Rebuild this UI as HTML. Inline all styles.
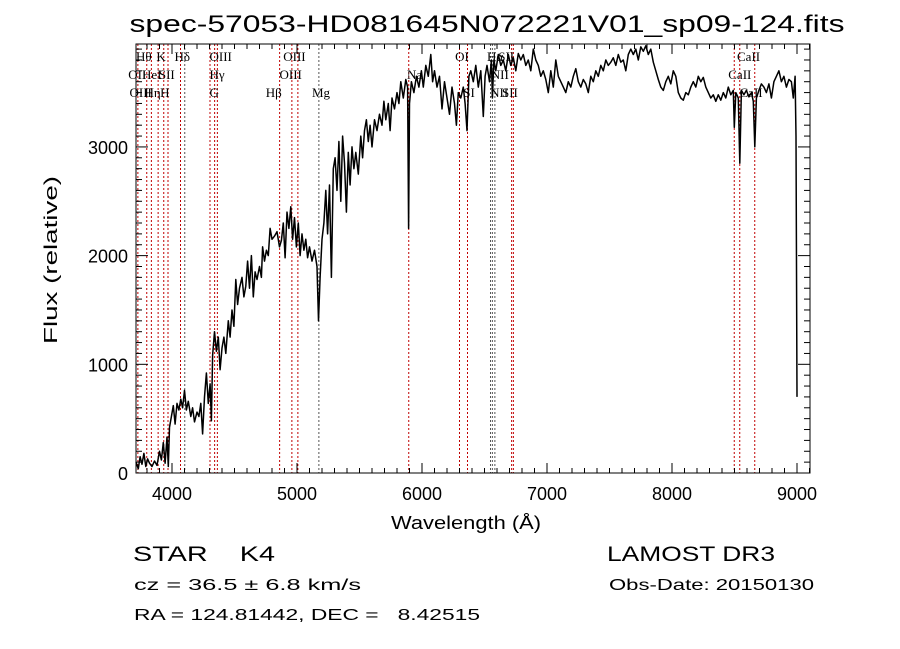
<!DOCTYPE html>
<html><head><meta charset="utf-8"><style>
body{margin:0;background:#fff;}
svg{display:block;}
text{fill:#000;white-space:pre;}
.lab{font-family:"Liberation Serif",serif;font-size:13px;}
.ax{font-family:"Liberation Sans",sans-serif;font-size:18px;}
</style></head><body>
<svg id="chart" width="900" height="649" viewBox="0 0 900 649" xmlns="http://www.w3.org/2000/svg">
<rect width="900" height="649" fill="#fff"/>
<text x="487" y="32" text-anchor="middle" font-family="Liberation Sans, sans-serif" font-size="24" textLength="715" lengthAdjust="spacingAndGlyphs">spec-57053-HD081645N072221V01_sp09-124.fits</text>
<g id="lines"></g>
<g id="labels"></g>
<path id="spec" fill="none" stroke="#000" stroke-width="1.5" stroke-linejoin="round"/>
<rect x="136" y="44" width="674" height="429" fill="none" stroke="#000" stroke-width="1"/>
<g id="ticks" stroke="#000" stroke-width="1"></g>
<g id="ticklabels"></g>
<text x="466" y="529" text-anchor="middle" class="ax" textLength="150" lengthAdjust="spacingAndGlyphs">Wavelength (Å)</text>
<text transform="translate(57,260) rotate(-90)" text-anchor="middle" class="ax" textLength="168" lengthAdjust="spacingAndGlyphs">Flux (relative)</text>
<text x="133" y="561" font-family="Liberation Sans, sans-serif" font-size="21" textLength="142" lengthAdjust="spacingAndGlyphs">STAR    K4</text>
<text x="134" y="590" font-family="Liberation Sans, sans-serif" font-size="16" textLength="227" lengthAdjust="spacingAndGlyphs">cz = 36.5 ± 6.8 km/s</text>
<text x="134" y="620" font-family="Liberation Sans, sans-serif" font-size="16" textLength="346" lengthAdjust="spacingAndGlyphs">RA = 124.81442, DEC =   8.42515</text>
<text x="607" y="561" font-family="Liberation Sans, sans-serif" font-size="21" textLength="168" lengthAdjust="spacingAndGlyphs">LAMOST DR3</text>
<text x="609" y="590" font-family="Liberation Sans, sans-serif" font-size="16" textLength="205" lengthAdjust="spacingAndGlyphs">Obs-Date: 20150130</text>
</svg>
<script>
const wavelengths=[3712,3730,3745,3760,3775,3790,3805,3820,3840,3860,3880,3900,3915,3930,3945,3960,3970,3980,3995,4010,4025,4040,4055,4070,4085,4100,4115,4130,4150,4165,4180,4200,4215,4230,4245,4260,4275,4290,4305,4315,4325,4340,4355,4370,4385,4400,4415,4430,4450,4465,4480,4495,4510,4525,4540,4560,4575,4590,4605,4620,4635,4650,4665,4680,4700,4715,4725,4740,4755,4770,4785,4800,4820,4840,4860,4875,4890,4905,4920,4935,4950,4965,4980,4995,5010,5025,5040,5055,5070,5085,5100,5120,5140,5160,5172,5185,5200,5215,5230,5245,5260,5275,5290,5305,5320,5335,5350,5365,5380,5395,5410,5425,5440,5455,5470,5490,5510,5525,5540,5555,5570,5585,5600,5620,5640,5660,5680,5695,5710,5730,5745,5760,5780,5800,5815,5830,5850,5870,5885,5893,5900,5915,5935,5955,5975,5995,6010,6030,6050,6070,6085,6100,6120,6140,6160,6180,6200,6220,6240,6260,6275,6290,6310,6330,6345,6360,6375,6390,6410,6430,6450,6470,6490,6505,6520,6540,6555,6563,6575,6590,6610,6630,6650,6670,6690,6710,6730,6750,6770,6790,6810,6830,6850,6870,6890,6910,6930,6950,6970,6990,7010,7030,7050,7070,7090,7110,7130,7150,7170,7190,7210,7230,7250,7270,7290,7310,7330,7350,7370,7390,7410,7430,7450,7470,7490,7510,7530,7550,7570,7590,7610,7630,7650,7670,7690,7710,7730,7750,7770,7790,7810,7830,7850,7870,7890,7910,7930,7950,7970,7990,8010,8030,8050,8070,8090,8110,8130,8150,8170,8190,8210,8230,8250,8270,8290,8310,8330,8350,8370,8390,8410,8430,8450,8470,8490,8498,8510,8530,8542,8555,8575,8595,8615,8635,8650,8662,8675,8695,8715,8735,8755,8775,8795,8815,8835,8855,8875,8895,8915,8935,8955,8970,8985,8992,9000];
const fluxes=[100,40,150,80,180,60,130,90,60,110,70,200,120,280,90,330,60,420,520,620,450,640,580,680,600,760,580,660,520,600,470,560,520,640,360,700,920,640,820,480,1080,1300,1120,1250,950,1150,1250,1100,1400,1250,1500,1350,1780,1550,1700,1800,1620,1720,1950,1700,2000,1620,1850,1780,1900,1800,2080,1950,2050,2000,2250,2150,2180,2220,2080,2140,2300,1980,2400,2250,2450,2150,2350,2080,2300,2000,2200,2050,2150,1980,2080,1950,2050,1900,1400,1800,2150,2300,2600,2200,2650,1800,2800,2900,2600,3050,2500,3100,2850,2400,2950,2650,3000,2800,2950,2750,3100,2900,3150,3250,3050,3200,3000,3250,3150,3300,3200,3420,3250,3400,3150,3450,3350,3500,3400,3600,3450,3620,3550,2250,3400,3600,3500,3650,3550,3700,3550,3750,3650,3850,3600,3700,3550,3650,3350,3600,3450,3300,3550,3400,3200,3500,3450,3550,3400,3150,3650,3700,3600,3750,3550,3700,3280,3650,3750,3600,3800,3450,3800,3700,3850,3750,3800,3700,3850,3750,3820,3700,3860,3800,3850,3750,3800,3700,3900,3800,3750,3650,3700,3620,3500,3700,3550,3800,3650,3600,3550,3500,3600,3550,3650,3720,3600,3550,3620,3580,3500,3650,3600,3700,3650,3750,3700,3800,3750,3780,3820,3750,3850,3780,3800,3700,3850,3900,3850,3900,3800,3920,3880,3930,3850,3900,3780,3700,3620,3550,3520,3600,3650,3580,3700,3650,3500,3450,3430,3500,3480,3550,3600,3550,3650,3600,3640,3550,3500,3450,3480,3420,3480,3430,3500,3450,3550,3480,3520,3180,3500,3450,2850,3520,3480,3520,3460,3500,3420,3000,3450,3520,3580,3550,3500,3580,3450,3600,3650,3700,3600,3650,3550,3620,3600,3450,3650,3100,700];
const lineWaves=[3727,3798,3835,3889,3934,3968,4068,4102,4304,4341,4363,4861,4959,5007,5175,5894,6300,6364,6548,6563,6583,6717,6731,8498,8542,8662];
const lineRed=[1,1,1,1,1,1,1,0,1,1,1,1,1,1,0,1,1,1,0,0,0,1,1,1,1,1];
const labelTexts=["Hθ","K","Hδ","OIII","OIII","OI","Hα","SII","CaII","OII","HeI","SII","Hγ","OIII","Na","NII","CaII","OIII","Hη","H","G","Hβ","Mg","SI","NII","SII","CaII"];
const labelWaves=[3712,3875,4020,4300,4890,6265,6520,6610,8520,3650,3760,3895,4300,4860,5880,6550,8450,3660,3780,3905,4300,4750,5120,6330,6545,6640,8540];
const labelRows=[0,0,0,0,0,0,0,0,0,1,1,1,1,1,1,1,1,2,2,2,2,2,2,2,2,2,2];
const xTicks=[4000,5000,6000,7000,8000,9000];
const yTicks=[0,1000,2000,3000];
const X0=136,X1=810,Y0=473,Y1=44,WMIN=3712,WMAX=9104,FMIN=0,FMAX=3947;
const xs=w=>X0+(w-WMIN)/(WMAX-WMIN)*(X1-X0);
const ys=f=>Y0-(f-FMIN)/(FMAX-FMIN)*(Y0-Y1);
const NS="http://www.w3.org/2000/svg";
function mk(tag,attrs,parent){const e=document.createElementNS(NS,tag);for(const k in attrs)e.setAttribute(k,attrs[k]);parent.appendChild(e);return e;}
let d="";wavelengths.forEach((w,i)=>{d+=(i?"L":"M")+xs(w).toFixed(1)+","+ys(fluxes[i]).toFixed(1);});
document.getElementById('spec').setAttribute('d',d);
const lg=document.getElementById('lines');
lineWaves.forEach((w,i)=>{const x=xs(w);const l=mk('line',{x1:x,x2:x,y1:Y1,y2:Y0,stroke:lineRed[i]?'#c00000':'#555','stroke-width':1,'stroke-dasharray':'2,2'},lg);

});
const lb=document.getElementById('labels');const rowY=[61,79,97];
labelTexts.forEach((t,i)=>{const x=Math.max(128,xs(labelWaves[i]));const e=mk('text',{x:x,y:rowY[labelRows[i]],class:'lab'},lb);e.textContent=t;

});
const tg=document.getElementById('ticks');
for(let w=3800;w<=9100;w+=100){const x=xs(w);const L=(w%1000===0)?10:5;mk('line',{x1:x,x2:x,y1:Y0,y2:Y0-L},tg);mk('line',{x1:x,x2:x,y1:Y1,y2:Y1+L},tg);}
for(let f=0;f<=3900;f+=100){const y=ys(f);const L=(f%1000===0)?12:6;mk('line',{x1:X0,x2:X0+L,y1:y,y2:y},tg);mk('line',{x1:X1,x2:X1-L,y1:y,y2:y},tg);}
const tl=document.getElementById('ticklabels');
xTicks.forEach(w=>{const e=mk('text',{x:xs(w),y:Y0+27,'text-anchor':'middle',class:'ax'},tl);e.textContent=w;

});
yTicks.forEach(f=>{const e=mk('text',{x:X0-8,y:ys(f)+7,'text-anchor':'end',class:'ax'},tl);e.textContent=f;

});
</script>
</body></html>
